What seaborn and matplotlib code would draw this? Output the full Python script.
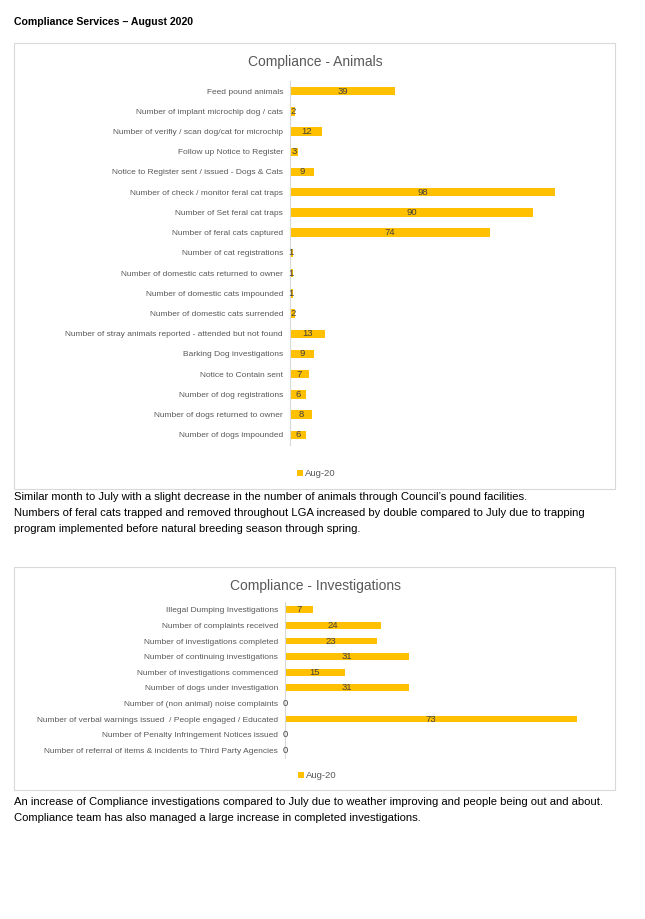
import matplotlib
matplotlib.use("Agg")
import matplotlib.pyplot as plt
import seaborn as sns
import pandas as pd
from matplotlib.patches import Rectangle

animal_labels = [
    "Feed pound animals",
    "Number of implant microchip dog / cats",
    "Number of verifiy / scan dog/cat for microchip",
    "Follow up Notice to Register",
    "Notice to Register sent / issued - Dogs & Cats",
    "Number of check / monitor feral cat traps",
    "Number of Set feral cat traps",
    "Number of feral cats captured",
    "Number of cat registrations",
    "Number of domestic cats returned to owner",
    "Number of domestic cats impounded",
    "Number of domestic cats surrended",
    "Number of stray animals reported - attended but not found",
    "Barking Dog investigations",
    "Notice to Contain sent",
    "Number of dog registrations",
    "Number of dogs returned to owner",
    "Number of dogs impounded",
]
animal_values = [39, 2, 12, 3, 9, 98, 90, 74, 1, 1, 1, 2, 13, 9, 7, 6, 8, 6]

inv_labels = [
    "Illegal Dumping Investigations",
    "Number of complaints received",
    "Number of investigations completed",
    "Number of continuing investigations",
    "Number of investigations commenced",
    "Number of dogs under investigation",
    "Number of (non animal) noise complaints",
    "Number of verbal warnings issued  / People engaged / Educated",
    "Number of Penalty Infringement Notices issued",
    "Number of referral of items & incidents to Third Party Agencies",
]
inv_values = [7, 24, 23, 31, 15, 31, 0, 73, 0, 0]

series_name = "Aug-20"
heading = "Compliance Services \u2013 August 2020"
title1 = "Compliance - Animals"
title2 = "Compliance - Investigations"
para1 = [
    "Similar month to July with a slight decrease in the number of animals through Council\u2019s pound facilities.",
    "Numbers of feral cats trapped and removed throughout LGA increased by double compared to July due to trapping",
    "program implemented before natural breeding season through spring.",
]
para2 = [
    "An increase of Compliance investigations compared to July due to weather improving and people being out and about.",
    "Compliance team has also managed a large increase in completed investigations.",
]

sns.set_theme(style="white")
plt.rcParams["font.family"] = ["Liberation Sans", "DejaVu Sans"]

W, H = 645, 919
fig = plt.figure(figsize=(W / 100, H / 100), dpi=100)
fig.patch.set_facecolor("white")

BAR = "#FFC000"
GREY = "#595959"
LBL = "#404040"


def fx(px):
    return px / W


def fy(py):
    return 1 - py / H


def panel(x0, y0, x1, y1):
    fig.add_artist(Rectangle((fx(x0), fy(y1)), fx(x1 - x0), (y1 - y0) / H,
                             transform=fig.transFigure, facecolor="white",
                             edgecolor="#d9d9d9", linewidth=0.8, zorder=0))


def bar_axes(x0, y0, x1, y1, labels, values, xmax, width, title, title_y, leg_x, leg_y, lblsize):
    ax = fig.add_axes([fx(x0), fy(y1), fx(x1 - x0), (y1 - y0) / H])
    ax.set_facecolor("none")
    df = pd.DataFrame({"label": labels, "value": values})
    sns.barplot(data=df, x="value", y="label", orient="h", color=BAR,
                saturation=1, width=width, ax=ax, edgecolor="none")
    ax.set_xlim(0, xmax)
    ax.set_xlabel("")
    ax.set_ylabel("")
    ax.set_xticks([])
    for s in ["top", "right", "bottom"]:
        ax.spines[s].set_visible(False)
    ax.spines["left"].set_color("#d9d9d9")
    ax.spines["left"].set_linewidth(0.8)
    ax.tick_params(axis="y", length=0, pad=5, labelsize=lblsize, labelcolor=GREY)
    for i, v in enumerate(values):
        ax.text(v / 2, i, str(v), ha="center", va="center", fontsize=6.8, color=LBL)
    fig.text(fx(315), fy(title_y), title, ha="center", va="center", fontsize=10, color=GREY)
    fig.add_artist(Rectangle((fx(leg_x), fy(leg_y + 3)), fx(6), 6 / H,
                             transform=fig.transFigure, facecolor=BAR, edgecolor="none"))
    fig.text(fx(leg_x + 8), fy(leg_y), series_name, ha="left", va="center", fontsize=6.8, color=GREY)
    return ax


fig.text(fx(14), fy(22), heading, ha="left", va="center", fontsize=7.6, fontweight="bold", color="black")

panel(14, 43, 615, 489)
bar_axes(290, 81, 600, 445, animal_labels, animal_values, 114.8, 0.42,
         title1, 62, 297, 473, 6.05)

for i, line in enumerate(para1):
    fig.text(fx(14), fy(497 + 16 * i), line, ha="left", va="center", fontsize=8.15, color="black")

panel(14, 567, 615, 790)
bar_axes(285, 602, 600, 758, inv_labels, inv_values, 78.75, 0.44,
         title2, 586, 298, 775, 6.0)

for i, line in enumerate(para2):
    fig.text(fx(14), fy(802 + 16 * i), line, ha="left", va="center", fontsize=8.15, color="black")

fig.savefig("out.png", dpi=100, facecolor="white")
